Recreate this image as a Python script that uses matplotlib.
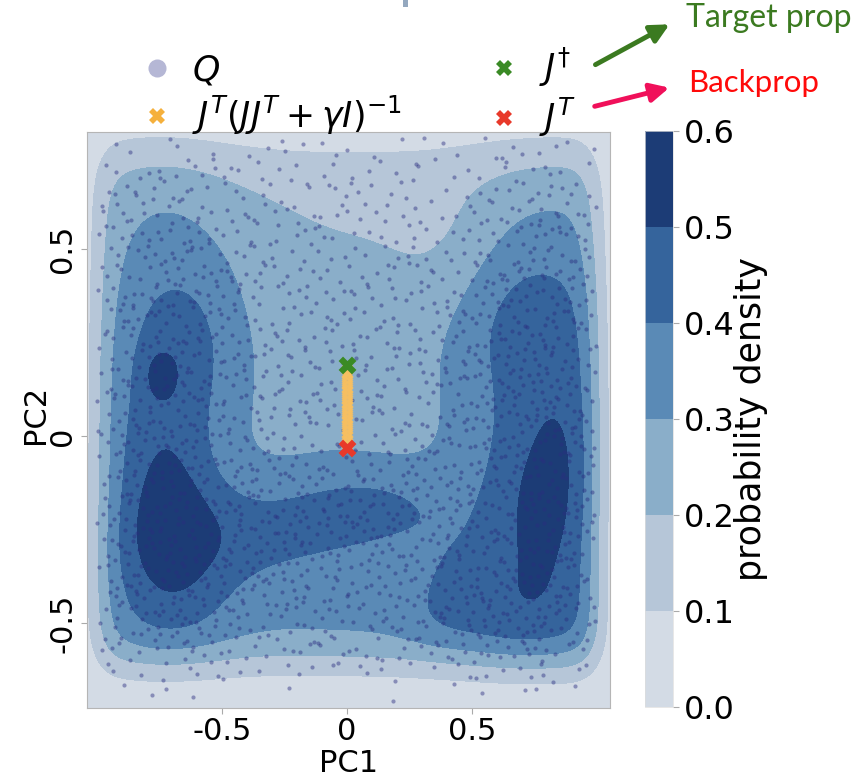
import math
import numpy as np
import matplotlib
matplotlib.use("Agg")
import matplotlib.pyplot as plt
from matplotlib.patches import FancyArrowPatch, Rectangle
from matplotlib.lines import Line2D

plt.rcParams['font.family'] = ['DejaVu Sans']
plt.rcParams['axes.unicode_minus'] = False
plt.rcParams['mathtext.fontset'] = 'dejavusans'

# ---------------- data ----------------
levels = [0.0, 0.1, 0.2, 0.3, 0.4, 0.5, 0.6]
level_colors = ['#d3dbe5', '#b6c6d8', '#8aaec9', '#5a8ab6', '#35649c', '#1c3c76']
cbar_ticklabels = ['0.0', '0.1', '0.2', '0.3', '0.4', '0.5', '0.6']
xticks = [-0.5, 0.0, 0.5]
xticklabels = ['-0.5', '0', '0.5']
yticks = [-0.5, 0.0, 0.5]
yticklabels = ['-0.5', '0', '0.5']
xlim = (-1.039, 1.053)
ylim = (-0.725, 0.813)

# density model: Gaussian components
#          center   ul   Lridge  Lup  Ldark  Lspot  Rridge Rdark  Rtop  tongue  tip  bottom Rlobe  dip
comp_cx = [-0.08, -0.42, -0.76, -0.62, -0.71, -0.745, 0.85, 0.76, 0.66, -0.25, 0.13, 0.05, 0.40, 0.42]
comp_cy = [0.12, 0.52, 0.00, 0.25, -0.20, 0.165, -0.05, -0.22, 0.33, -0.25, -0.20, -0.52, -0.40, 0.50]
comp_sx = [0.36, 0.20, 0.22, 0.14, 0.13, 0.045, 0.31, 0.14, 0.20, 0.40, 0.18, 0.70, 0.12, 0.15]
comp_sy = [0.30, 0.15, 0.55, 0.14, 0.17, 0.045, 0.55, 0.25, 0.15, 0.11, 0.07, 0.13, 0.12, 0.14]
comp_angle = [0, 0, 0, 0, 10, 0, 0, -23, 0, 5, 0, 0, 0, 0]
comp_amp = [0.12, 0.03, 0.25, 0.07, 0.11, 0.10, 0.29, 0.095, 0.08, 0.20, 0.08, 0.15, 0.08, -0.04]
g_const = 0.15
box_x = (-1.01, 1.005)
box_y = (-0.62, 0.78)
box_sx = 0.06
box_sy_low = 0.07
box_sy_high = 0.085

# update points
jdag_pt = (0.0, 0.19)
jt_pt = (0.0, -0.03)
reg_x = [0.0] * 23
reg_y = [-0.03, -0.02, -0.01, 0.0, 0.01, 0.02, 0.03, 0.04, 0.05, 0.06, 0.07, 0.08,
         0.09, 0.10, 0.11, 0.12, 0.13, 0.14, 0.15, 0.16, 0.17, 0.18, 0.19]

n_candidates = 4000

# ---------------- model ----------------
verf = np.vectorize(math.erf)


def phi(z):
    return 0.5 * (1.0 + verf(z / math.sqrt(2.0)))


def density(x, y):
    g = np.full(np.shape(x), g_const, dtype=float)
    for cx, cy, sx, sy, ang, amp in zip(comp_cx, comp_cy, comp_sx, comp_sy, comp_angle, comp_amp):
        t = math.radians(ang)
        dx = x - cx
        dy = y - cy
        u = math.cos(t) * dx + math.sin(t) * dy
        v = -math.sin(t) * dx + math.cos(t) * dy
        g = g + amp * np.exp(-0.5 * ((u / sx) ** 2 + (v / sy) ** 2))
    bx = phi((x - box_x[0]) / box_sx) * phi((box_x[1] - x) / box_sx)
    by = phi((y - box_y[0]) / box_sy_low) * phi((box_y[1] - y) / box_sy_high)
    return np.clip(g * bx * by, 0, 0.599)


def halton(n, base):
    out = np.zeros(n)
    for i in range(n):
        f, r, k = 1.0, 0.0, i + 1
        while k > 0:
            f /= base
            r += f * (k % base)
            k //= base
        out[i] = r
    return out


# ---------------- figure ----------------
W, H = 853, 777
fig = plt.figure(figsize=(W / 100, H / 100), dpi=100)
ax = fig.add_axes([87 / W, 1 - 707.7 / H, 523 / W, (707.7 - 132) / H])
cax = fig.add_axes([645 / W, 1 - 707 / H, 28 / W, (707 - 131) / H])

xs = np.linspace(xlim[0], xlim[1], 320)
ys = np.linspace(ylim[0], ylim[1], 320)
X, Y = np.meshgrid(xs, ys)
Z = density(X, Y)
ax.set_facecolor(level_colors[0])
cs = ax.contourf(X, Y, Z, levels=levels, colors=level_colors)

# sample points
hx = -1.0 + 2.0 * halton(n_candidates, 2)
hy = -0.72 + 1.52 * halton(n_candidates, 3)
hu = halton(n_candidates, 5)
keep = hu < density(hx, hy) / 0.62
ax.scatter(hx[keep], hy[keep], s=9, color='#2b2d80', alpha=0.45, linewidths=0, zorder=3)

ax.scatter(reg_x, reg_y, marker='X', s=75, color='#f8c060', alpha=0.85, linewidths=0, zorder=4)
ax.scatter([jdag_pt[0]], [jdag_pt[1]], marker='X', s=165, color='#3a8a25', linewidths=0, zorder=5)
ax.scatter([jt_pt[0]], [jt_pt[1]], marker='X', s=165, color='#e8392a', linewidths=0, zorder=5)

ax.set_xlim(*xlim)
ax.set_ylim(*ylim)
ax.set_xticks(xticks)
ax.set_xticklabels(xticklabels)
ax.set_yticks(yticks)
ax.set_yticklabels(yticklabels, rotation=90, va='center')
ax.tick_params(labelsize=22, length=4, color='#aaaaaa', width=0.8, pad=3)
for sp in ax.spines.values():
    sp.set_color('#b5b5b5')
    sp.set_linewidth(0.8)
ax.set_xlabel('PC1', fontsize=22, labelpad=2)
ax.set_ylabel('PC2', fontsize=22)
ax.yaxis.set_label_coords(-0.07, 0.51)

cb = fig.colorbar(cs, cax=cax, ticks=levels)
cb.ax.set_yticklabels(cbar_ticklabels)
cb.ax.tick_params(labelsize=23, length=4, color='#aaaaaa', width=0.8)
cb.outline.set_edgecolor('#dddddd')
cb.outline.set_linewidth(0.5)
cb.set_label('probability density', fontsize=25, labelpad=0)

handles = [
    Line2D([], [], marker='o', linestyle='', color='#b5b7d5', markersize=13, markeredgewidth=0),
    Line2D([], [], marker='X', linestyle='', color='#f5b03c', markersize=11, markeredgewidth=0),
    Line2D([], [], marker='X', linestyle='', color='#3a8a25', markersize=11, markeredgewidth=0),
    Line2D([], [], marker='X', linestyle='', color='#e8392a', markersize=11, markeredgewidth=0),
]
labels = [r'$Q$', r'$J^T(JJ^T+\gamma I)^{-1}$', r'$J^{\dagger}$', r'$J^T$']
ax.legend(handles, labels, loc='lower center', bbox_to_anchor=(0.518, 0.975), ncol=2,
          frameon=False, fontsize=25, columnspacing=2.45, handletextpad=0.5,
          handlelength=1.0, labelspacing=0.2, borderaxespad=0.0, borderpad=0.2)

# annotations
def fp(px, py):
    return (px / W, 1 - py / H)

fig.text(*fp(686, 27), 'Target prop', fontfamily='Lato', color='#3b7a20', fontsize=23, va='baseline')
fig.text(*fp(688, 92), 'Backprop', fontfamily='Lato', color='#ff0a0a', fontsize=22.5, va='baseline')
fig.add_artist(FancyArrowPatch(fp(593, 66), fp(672, 23), transform=fig.transFigure,
                               arrowstyle='-|>', mutation_scale=28, lw=3.5, color='#3b7a20'))
fig.add_artist(FancyArrowPatch(fp(592, 107), fp(672, 87), transform=fig.transFigure,
                               arrowstyle='-|>', mutation_scale=28, lw=3.5, color='#f0105a'))
fig.add_artist(Rectangle(fp(403, 7), 5 / W, 7 / H, transform=fig.transFigure,
                         color='#94a8bf', lw=0))

fig.savefig('out.png', dpi=100)
